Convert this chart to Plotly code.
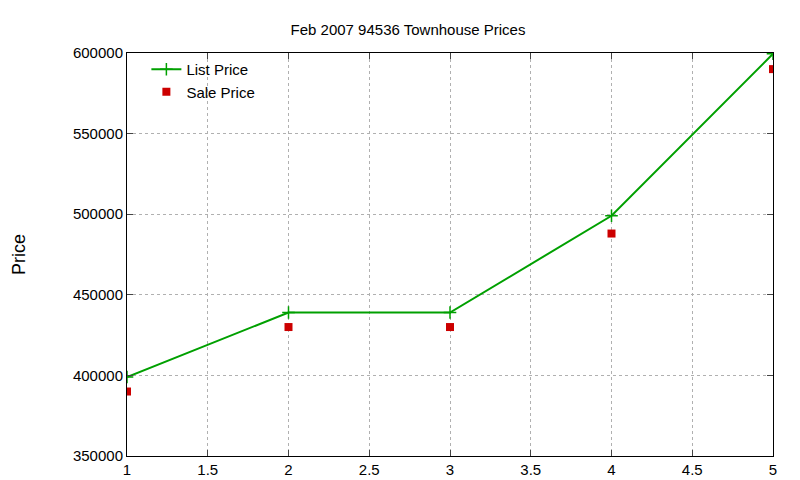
import plotly.graph_objects as go

x = [1, 2, 3, 4, 5]
list_price = [399000, 439000, 439000, 499000, 599500]
sale_price = [390000, 430000, 430000, 488000, 590000]

fig = go.Figure()
fig.add_trace(go.Scatter(x=x, y=list_price, mode="lines+markers", name="List Price",
                         line=dict(color="#00a000", width=2),
                         marker=dict(symbol="cross-thin", size=9, line=dict(color="#00a000", width=1.5))))
fig.add_trace(go.Scatter(x=x, y=sale_price, mode="markers", name="Sale Price",
                         marker=dict(symbol="square", size=8, color="#cc0000")))

axis = dict(showline=True, linecolor="black", linewidth=1, mirror="ticks", ticks="inside",
            ticklen=6, gridcolor="#b0b0b0", griddash="dot", zeroline=False, automargin=False)
fig.update_layout(
    width=800, height=480, paper_bgcolor="white", plot_bgcolor="white",
    font=dict(family="Liberation Sans, Arial", size=15, color="black"),
    margin=dict(l=119, r=35, t=45, b=32, autoexpand=False),
    title=dict(text="Feb 2007 94536 Townhouse Prices", x=0.5, xanchor="center",
               y=0.955, yanchor="middle", font=dict(size=15), automargin=False),
    xaxis=dict(axis, range=[1, 5], dtick=0.5),
    yaxis=dict(axis, range=[350000, 600000], dtick=50000, tickformat="d",
               title=dict(text="Price", standoff=42)),
    legend=dict(x=0.03, y=1.0, xanchor="left", yanchor="top", bgcolor="rgba(0,0,0,0)",
                font=dict(size=15), tracegroupgap=0),
    showlegend=True,
)
fig.write_html("out.html")
